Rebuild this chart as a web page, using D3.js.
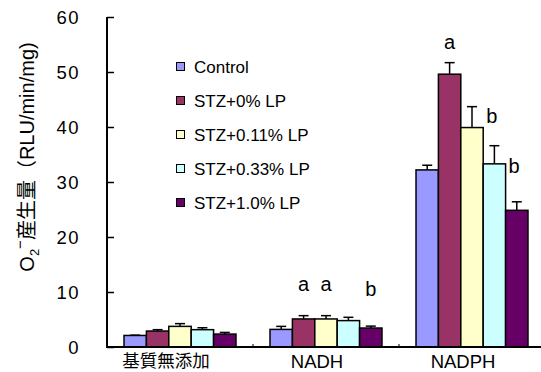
<!DOCTYPE html>
<html>
<head>
<meta charset="utf-8">
<script src="https://cdn.jsdelivr.net/npm/d3@7"></script>
<style>
  html, body { margin: 0; padding: 0; background: #fff; }
  svg { display: block; }
  text { font-family: "Liberation Sans", Arial, "Noto Sans CJK JP", sans-serif; fill: #000; }
  .cjk { font-family: "Noto Sans CJK JP", "Liberation Sans", sans-serif; }
</style>
</head>
<body>
<svg id="chart" width="541" height="372"></svg>
<script>
// Substrates on the x axis
const categories = ["基質無添加", "NADH", "NADPH"];
// Treatment groups (legend order)
const seriesNames = ["Control", "STZ+0% LP", "STZ+0.11% LP", "STZ+0.33% LP", "STZ+1.0% LP"];
const seriesColors = ["#9999FF", "#993366", "#FFFFCC", "#CCFFFF", "#660066"];
// Mean O2- production per substrate, one array per treatment group
const controlValues = [2.1, 3.2, 32.2];
const stz0Values    = [2.9, 5.1, 49.6];
const stz011Values  = [3.75, 5.1, 39.9];
const stz033Values  = [3.15, 4.8, 33.3];
const stz10Values   = [2.35, 3.45, 24.85];
// Standard errors (drawn upward only)
const controlErr = [0.05, 0.55, 0.85];
const stz0Err    = [0.25, 0.6, 2.1];
const stz011Err  = [0.5, 0.6, 3.8];
const stz033Err  = [0.35, 0.6, 3.3];
const stz10Err   = [0.3, 0.35, 1.55];
// Y axis ticks
const yTicks = [0, 10, 20, 30, 40, 50, 60];
// Significance letters: substrate, treatment index, letter, baseline level (data units), side placement
const sigLetters = [
  { cat: "NADH",  s: 1, text: "a", level: 10.2, side: false },
  { cat: "NADH",  s: 2, text: "a", level: 10.2, side: false },
  { cat: "NADH",  s: 4, text: "b", level: 9.3,  side: false },
  { cat: "NADPH", s: 1, text: "a", level: 54.2, side: false },
  { cat: "NADPH", s: 2, text: "b", level: 40.7, side: true },
  { cat: "NADPH", s: 3, text: "b", level: 31.6, side: true }
];

const valueSets = [controlValues, stz0Values, stz011Values, stz033Values, stz10Values];
const errSets = [controlErr, stz0Err, stz011Err, stz033Err, stz10Err];
const rows = [];
categories.forEach((c, ci) => {
  seriesNames.forEach((s, si) => {
    rows.push({ cat: c, si, value: valueSets[si][ci], err: errSets[si][ci] });
  });
});

const svg = d3.select("#chart");
const plotLeft = 107, plotTop = 17, plotBottom = 347, plotRight = 545;

const x0 = d3.scaleBand().domain(categories).range([plotLeft, plotRight]).paddingInner(0).paddingOuter(0);
const x1 = d3.scaleBand().domain(d3.range(seriesNames.length)).range([0, x0.bandwidth()])
  .paddingInner(0).paddingOuter(0.76);
const y = d3.scaleLinear().domain([0, 60]).range([plotBottom, plotTop]);

// Bars
svg.append("g").selectAll("rect").data(rows).join("rect")
  .attr("x", d => x0(d.cat) + x1(d.si))
  .attr("y", d => y(d.value))
  .attr("width", x1.bandwidth())
  .attr("height", d => y(0) - y(d.value))
  .attr("fill", d => seriesColors[d.si])
  .attr("stroke", "#000")
  .attr("stroke-width", 1.5);

// Error bars (upper half with cap)
const eb = svg.append("g").attr("stroke", "#000").attr("stroke-width", 1.5);
rows.forEach(d => {
  const cx = x0(d.cat) + x1(d.si) + x1.bandwidth() / 2;
  eb.append("line").attr("x1", cx).attr("x2", cx).attr("y1", y(d.value)).attr("y2", y(d.value + d.err));
  eb.append("line").attr("x1", cx - 5).attr("x2", cx + 5).attr("y1", y(d.value + d.err)).attr("y2", y(d.value + d.err));
});

// Y axis with inward ticks
const yAxis = d3.axisRight(y).tickValues(yTicks).tickSize(7).tickFormat(d3.format("d"));
const gy = svg.append("g").attr("transform", `translate(${plotLeft},0)`).call(yAxis);
gy.select(".domain").remove();
gy.selectAll(".tick line").attr("stroke", "#000").attr("stroke-width", 1.5);
gy.selectAll(".tick text")
  .attr("x", -27).attr("dy", "0.36em").attr("text-anchor", "end")
  .style("font-size", "18.5px").style("letter-spacing", "1.5px");
svg.append("line").attr("x1", plotLeft).attr("x2", plotLeft).attr("y1", plotTop).attr("y2", plotBottom + 1)
  .attr("stroke", "#000").attr("stroke-width", 2);

// X axis: baseline, small boundary ticks, category labels (set slightly left of band centre)
const isCjk = d => /[^\x00-\x7F]/.test(d);
const xAxis = d3.axisBottom(x0).tickSize(0).tickPadding(10);
const gx = svg.append("g").attr("transform", `translate(0,${plotBottom})`).call(xAxis);
gx.select(".domain").remove();
gx.selectAll(".tick text")
  .attr("y", d => isCjk(d) ? 20 : 21).attr("dy", 0)
  .attr("dx", d => isCjk(d) ? -14 : -9)
  .attr("class", d => isCjk(d) ? "cjk" : null)
  .style("font-size", d => isCjk(d) ? "17.5px" : "18.5px");
svg.append("g").selectAll("line").data(categories.slice(1)).join("line")
  .attr("x1", d => x0(d)).attr("x2", d => x0(d))
  .attr("y1", plotBottom).attr("y2", plotBottom - 3)
  .attr("stroke", "#000").attr("stroke-width", 1);
svg.append("line").attr("x1", plotLeft - 1).attr("x2", plotRight).attr("y1", plotBottom).attr("y2", plotBottom)
  .attr("stroke", "#000").attr("stroke-width", 2);

// Y axis title
const title = svg.append("text")
  .attr("transform", `translate(34,157) rotate(-90)`)
  .attr("text-anchor", "middle")
  .style("font-size", "20px");
title.append("tspan").text("O");
title.append("tspan").attr("dy", 5).style("font-size", "13px").text("2");
title.append("tspan").attr("dy", -14).style("font-size", "15px").text("−");
title.append("tspan").attr("dy", 9).attr("class", "cjk").text("産生量（");
title.append("tspan").text("RLU/min/mg)");

// Significance letters
svg.append("g").selectAll("text").data(sigLetters).join("text")
  .attr("x", d => x0(d.cat) + x1(d.s) + (d.side ? x1.bandwidth() + 8.5 : x1.bandwidth() / 2))
  .attr("y", d => y(d.level))
  .attr("text-anchor", "middle")
  .style("font-size", "20px")
  .text(d => d.text);

// Legend
const legend = svg.append("g").attr("transform", "translate(176,67)");
const li = legend.selectAll("g").data(seriesNames).join("g")
  .attr("transform", (d, i) => `translate(0,${i * 34})`);
li.append("rect").attr("x", 0.5).attr("y", -4.5).attr("width", 8).attr("height", 8)
  .attr("fill", (d, i) => seriesColors[i]).attr("stroke", "#000").attr("stroke-width", 1);
li.append("text").attr("x", 18).attr("y", 0).attr("dy", "0.36em")
  .style("font-size", "17px").text(d => d);
</script>
</body>
</html>
